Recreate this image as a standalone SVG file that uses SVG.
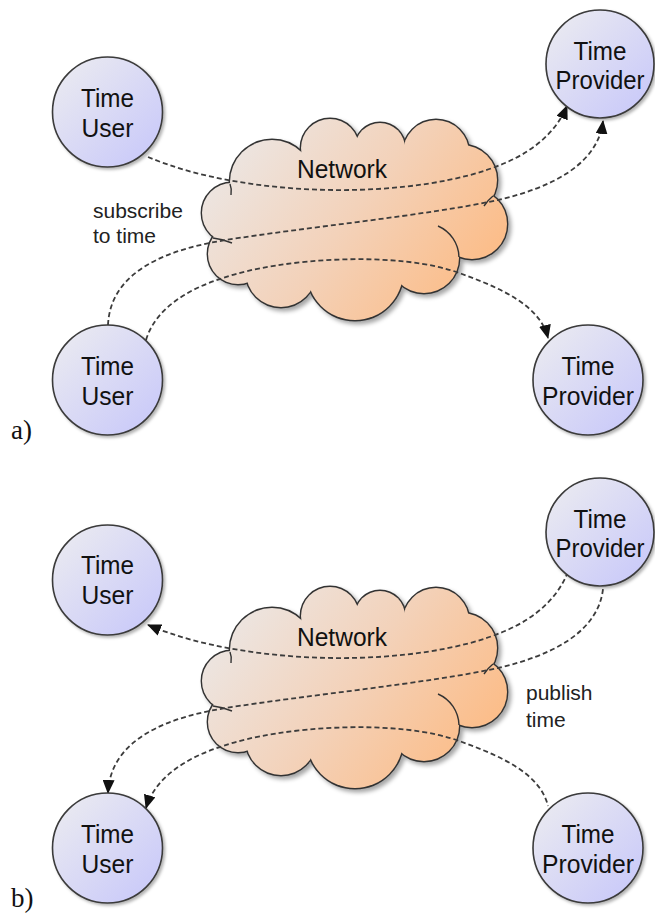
<svg xmlns="http://www.w3.org/2000/svg" xmlns:xlink="http://www.w3.org/1999/xlink" width="655" height="913" viewBox="0 0 655 913">
<style>
.node circle{fill:url(#ng);stroke:#3a3a3a;stroke-width:1.6}
.nt{font-family:"Liberation Sans",Arial,sans-serif;font-size:26px;fill:#111;text-anchor:middle}
.lbl{font-family:"Liberation Sans",Arial,sans-serif;font-size:21px;fill:#222}
.pl{font-family:"Liberation Serif","Times New Roman",serif;font-size:27px;fill:#111}
.con path{fill:none;stroke:#3c3c3c;stroke-width:1.8;stroke-dasharray:5 3}
.cs circle{fill:none;stroke:#333;stroke-width:2.8}
.cf circle,.cf ellipse{fill:url(#cg);stroke:none}
.ci{fill:none;stroke:#333;stroke-width:1.4}
</style>
<defs>
<linearGradient id="ng" x1="0" y1="0" x2="1" y2="1">
<stop offset="0" stop-color="#ededf0"/>
<stop offset="1" stop-color="#c6c6fa"/>
</linearGradient>
<linearGradient id="cg" gradientUnits="userSpaceOnUse" x1="215" y1="130" x2="470" y2="320">
<stop offset="0" stop-color="#ebe9e9"/>
<stop offset="0.5" stop-color="#f3d2ba"/>
<stop offset="1" stop-color="#fdba82"/>
</linearGradient>
<filter id="sh" x="-10%" y="-10%" width="125%" height="125%">
<feDropShadow dx="3" dy="3" stdDeviation="2" flood-color="#000" flood-opacity="0.35"/>
</filter>
<filter id="nsh" x="-10%" y="-10%" width="125%" height="125%">
<feDropShadow dx="2" dy="2" stdDeviation="1.5" flood-color="#000" flood-opacity="0.3"/>
</filter>
<marker id="ah" viewBox="0 0 14 12" refX="13" refY="6" markerWidth="14" markerHeight="12" markerUnits="userSpaceOnUse" orient="auto-start-reverse">
<path d="M0,0 L14,6 L0,12 z" fill="#111"/>
</marker>
<g id="cloudShape">
<g class="cs">
<circle cx="232" cy="213" r="30"/>
<circle cx="272" cy="182" r="42"/>
<circle cx="330" cy="148" r="29"/>
<circle cx="380" cy="148" r="25"/>
<circle cx="436" cy="153" r="33"/>
<circle cx="462" cy="180" r="35"/>
<circle cx="472" cy="224" r="35"/>
<circle cx="424" cy="258" r="35"/>
<circle cx="355" cy="272" r="48"/>
<circle cx="281" cy="272" r="35"/>
<circle cx="238" cy="254" r="30"/>
</g>
<g class="cf">
<circle cx="232" cy="213" r="30"/>
<circle cx="272" cy="182" r="42"/>
<circle cx="330" cy="148" r="29"/>
<circle cx="380" cy="148" r="25"/>
<circle cx="436" cy="153" r="33"/>
<circle cx="462" cy="180" r="35"/>
<circle cx="472" cy="224" r="35"/>
<circle cx="424" cy="258" r="35"/>
<circle cx="355" cy="272" r="48"/>
<circle cx="281" cy="272" r="35"/>
<circle cx="238" cy="254" r="30"/>
<ellipse cx="350" cy="215" rx="115" ry="68"/>
</g>
<path class="ci" d="M438,226 A35,35 0 0 1 459,257"/>
<path class="ci" d="M213,238 Q222,239 232,243"/>
<path class="ci" d="M230,184 Q232,189 231,195"/>
<path class="ci" d="M493,196 Q488,200 484,206"/>
</g>
</defs>
<rect width="655" height="913" fill="#fff"/>

<!-- Panel a -->
<g id="network-a">
<use xlink:href="#cloudShape" href="#cloudShape" filter="url(#sh)"/>
<text class="nt" x="342" y="178" textLength="90" lengthAdjust="spacingAndGlyphs">Network</text>
</g>
<g id="connectors-a" class="con">
<path d="M148,157 C250,200 420,200 505,163 C538,149 558,128 567,106" marker-end="url(#ah)"/>
<path d="M108,325 C110,280 150,252 226,240 C300,228 430,215 498,200 C550,188 598,165 603,121" marker-end="url(#ah)"/>
<path d="M146,340 C155,310 185,290 223,278 C280,258 400,250 462,274 C500,288 540,305 548,338" marker-end="url(#ah)"/>
</g>
<g id="time-user-a1" class="node">
<circle cx="107.5" cy="112" r="55" filter="url(#nsh)"/>
<text class="nt" x="107.5" y="107" textLength="53" lengthAdjust="spacingAndGlyphs">Time</text>
<text class="nt" x="107.5" y="137" textLength="52" lengthAdjust="spacingAndGlyphs">User</text>
</g>
<g id="time-provider-a1" class="node">
<circle cx="600" cy="64" r="54" filter="url(#nsh)"/>
<text class="nt" x="600" y="60" textLength="53" lengthAdjust="spacingAndGlyphs">Time</text>
<text class="nt" x="600" y="89" textLength="89" lengthAdjust="spacingAndGlyphs">Provider</text>
</g>
<g id="time-user-a2" class="node">
<circle cx="107.5" cy="380" r="55" filter="url(#nsh)"/>
<text class="nt" x="107.5" y="375" textLength="53" lengthAdjust="spacingAndGlyphs">Time</text>
<text class="nt" x="107.5" y="405" textLength="52" lengthAdjust="spacingAndGlyphs">User</text>
</g>
<g id="time-provider-a2" class="node">
<circle cx="588" cy="380" r="55" filter="url(#nsh)"/>
<text class="nt" x="588" y="375" textLength="53" lengthAdjust="spacingAndGlyphs">Time</text>
<text class="nt" x="588" y="405" textLength="92" lengthAdjust="spacingAndGlyphs">Provider</text>
</g>
<g id="label-a">
<text class="lbl" x="93" y="218">subscribe</text>
<text class="lbl" x="93" y="243">to time</text>
</g>
<text class="pl" x="11" y="439">a)</text>

<!-- Panel b -->
<g id="network-b">
<use xlink:href="#cloudShape" href="#cloudShape" transform="translate(0,468)" filter="url(#sh)"/>
<text class="nt" x="342" y="646" textLength="90" lengthAdjust="spacingAndGlyphs">Network</text>
</g>
<g id="connectors-b" class="con" transform="translate(0,468)">
<path d="M148,157 C250,200 420,200 505,163 C538,149 558,128 567,106" marker-start="url(#ah)"/>
<path d="M108,325 C110,280 150,252 226,240 C300,228 430,215 498,200 C550,188 598,165 603,121" marker-start="url(#ah)"/>
<path d="M146,340 C155,310 185,290 223,278 C280,258 400,250 462,274 C500,288 540,305 548,338" marker-start="url(#ah)"/>
</g>
<g id="time-user-b1" class="node">
<circle cx="107.5" cy="580" r="55" filter="url(#nsh)"/>
<text class="nt" x="107.5" y="574" textLength="53" lengthAdjust="spacingAndGlyphs">Time</text>
<text class="nt" x="107.5" y="604" textLength="52" lengthAdjust="spacingAndGlyphs">User</text>
</g>
<g id="time-provider-b1" class="node">
<circle cx="600" cy="532" r="54" filter="url(#nsh)"/>
<text class="nt" x="600" y="528" textLength="53" lengthAdjust="spacingAndGlyphs">Time</text>
<text class="nt" x="600" y="557" textLength="89" lengthAdjust="spacingAndGlyphs">Provider</text>
</g>
<g id="time-user-b2" class="node">
<circle cx="107.5" cy="848" r="55" filter="url(#nsh)"/>
<text class="nt" x="107.5" y="843" textLength="53" lengthAdjust="spacingAndGlyphs">Time</text>
<text class="nt" x="107.5" y="873" textLength="52" lengthAdjust="spacingAndGlyphs">User</text>
</g>
<g id="time-provider-b2" class="node">
<circle cx="588" cy="848" r="55" filter="url(#nsh)"/>
<text class="nt" x="588" y="843" textLength="53" lengthAdjust="spacingAndGlyphs">Time</text>
<text class="nt" x="588" y="873" textLength="92" lengthAdjust="spacingAndGlyphs">Provider</text>
</g>
<g id="label-b">
<text class="lbl" x="526" y="700">publish</text>
<text class="lbl" x="526" y="727">time</text>
</g>
<text class="pl" x="11" y="907">b)</text>
</svg>
